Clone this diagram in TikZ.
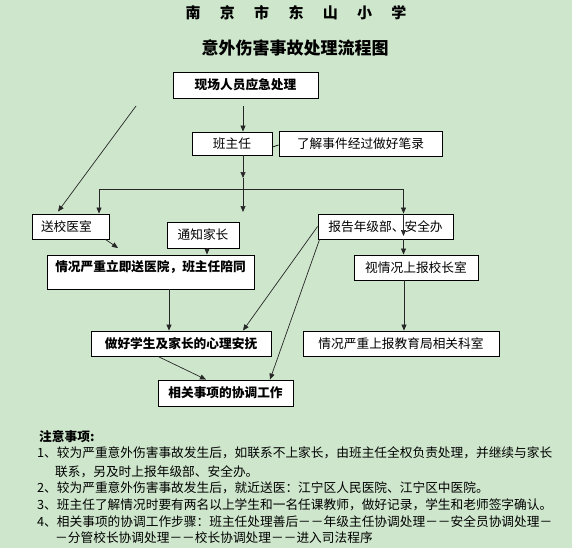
\documentclass[tikz,border=0pt]{standalone}
\usepackage{fontspec}
\setmainfont{Noto Sans CJK SC}
\usetikzlibrary{arrows.meta,positioning,calc}
\definecolor{eyegreen}{RGB}{206,231,204}
\newcommand{\tsp}{\hspace{19.3pt}}

\begin{document}
\begin{tikzpicture}[x=1pt,y=-1pt,
    box/.style={draw,line width=0.9pt,fill=white,inner sep=0pt,
      font=\fontsize{12.7pt}{15pt}\selectfont,text height=11pt,text depth=1.5pt},
    boldbox/.style={box,font=\fontsize{12.7pt}{15pt}\selectfont\bfseries},
    arr/.style={-{Triangle[length=6pt,width=5pt]},line width=0.7pt,black!85},
    note/.style={anchor=west,inner sep=0pt,
      font=\fontsize{12.7pt}{15pt}\selectfont,text height=11pt,text depth=1.5pt}]
    \useasboundingbox (0,0) rectangle (572,548);
    \fill[eyegreen] (0,0) rectangle (572,548);

    % Titles
    \node[font=\fontsize{15pt}{18pt}\selectfont\bfseries] (t1) at (296,13)
      {南\tsp 京\tsp 市\tsp 东\tsp 山\tsp 小\tsp 学};
    \node[font=\fontsize{17pt}{20pt}\selectfont\bfseries] (t2) at (295,48) {意外伤害事故处理流程图};

    % Boxes
    \node[boldbox,minimum width=145pt,minimum height=26pt] (xc) at (245.5,85) {现场人员应急处理};
    \node[box,minimum width=80pt,minimum height=23pt] (bzr) at (232,143.5) {班主任};
    \node[box,minimum width=163pt,minimum height=25pt] (ljsj) at (360.5,143.5) {了解事件经过做好笔录};
    \node[box,minimum height=25pt,text width=59pt,inner xsep=9pt,align=left] (sxys) at (70.5,226.5) {送校医室};
    \node[box,minimum width=72pt,minimum height=26pt] (tzjz) at (203,235) {通知家长};
    \node[box,minimum width=135pt,minimum height=25pt] (bgnjb) at (385.5,226.5) {报告年级部、安全办};
    \node[boldbox,minimum width=207pt,text height=16pt,text depth=18pt] (qkyz) at (150.5,272)
      {情况严重立即送医院，班主任陪同};
    \node[box,minimum width=124pt,minimum height=25pt] (sqk) at (416,267.5) {视情况上报校长室};
    \node[boldbox,minimum width=180pt,minimum height=25pt] (zhxs) at (181,343.5) {做好学生及家长的心理安抚};
    \node[box,minimum width=196pt,minimum height=25pt] (qkjy) at (401,343.5) {情况严重上报教育局相关科室};
    \node[boldbox,minimum width=135pt,minimum height=26pt] (xgsx) at (225.5,393) {相关事项的协调工作};

    % Connectors
    \coordinate (s0) at (243,106);
    \coordinate (d0) at (136,106);
    \coordinate (j1) at (243,178);
    \coordinate (j2) at (243,212);
    \coordinate (hl) at (99,189);
    \coordinate (hr) at (403.5,189);
    \coordinate (b1) at (403.5,236);
    \coordinate (s1) at (118,248);
    \coordinate (tc) at (207,0);
    \coordinate (qc) at (169,0);
    \coordinate (rc) at (404,0);

    \draw[arr] (s0) -- (s0 |- bzr.north);
    \draw[arr] (d0) -- ([xshift=-12.5pt,yshift=2pt]sxys.north);
    \draw[line width=0.7pt] ([yshift=-3.5pt]bzr.east) -- ([yshift=-1.5pt]ljsj.west);
    \draw[arr] (bzr.south -| j1) -- (j1);
    \draw[arr] (j1) -- (j2);
    \draw[line width=0.7pt,black!85] (hl) -- (hr);
    \draw[arr] (hl) -- (hl |- sxys.north);
    \draw[arr] (hr) -- (hr |- bgnjb.north);
    \draw[arr] (hr |- bgnjb.north) -- (b1);
    \draw[arr] (hr |- bgnjb.south) -- (hr |- sqk.north);
    \draw[arr] ([xshift=-4pt]sxys.south east) -- (s1);
    \draw[arr] (tc |- tzjz.south) -- (tc |- qkyz.north);
    \draw[arr] (qc |- qkyz.south) -- (qc |- zhxs.north);
    \draw[arr] (bgnjb.west) -- ([xshift=62pt]zhxs.north);
    \draw[arr] ([xshift=2pt]bgnjb.south west) -- ([xshift=44.5pt]xgsx.north);
    \draw[arr] ([xshift=-23pt]zhxs.south) -- ([xshift=-19.5pt]xgsx.north);
    \draw[arr] (rc |- sqk.south) -- (rc |- qkjy.north);

    % Notes
    \node[note,font=\fontsize{12.7pt}{15pt}\selectfont\bfseries] (zy) at (39,437) {注意事项:};
    \node[note] (n1) at (37,453) {1、较为严重意外伤害事故发生后，如联系不上家长，由班主任全权负责处理，并继续与家长};
    \node[note] (n1b) at (55,472) {联系，另及时上报年级部、安全办。};
    \node[note] (n2) at (37,488) {2、较为严重意外伤害事故发生后，就近送医：江宁区人民医院、江宁区中医院。};
    \node[note] (n3) at (37,505) {3、班主任了解情况时要有两名以上学生和一名任课教师，做好记录，学生和老师签字确认。};
    \node[note] (n4) at (37,522) {4、相关事项的协调工作步骤：班主任处理善后－－年级主任协调处理－－安全员协调处理－};
    \node[note] (n4b) at (55,538) {－分管校长协调处理－－校长协调处理－－进入司法程序};
  \end{tikzpicture}
\end{document}
